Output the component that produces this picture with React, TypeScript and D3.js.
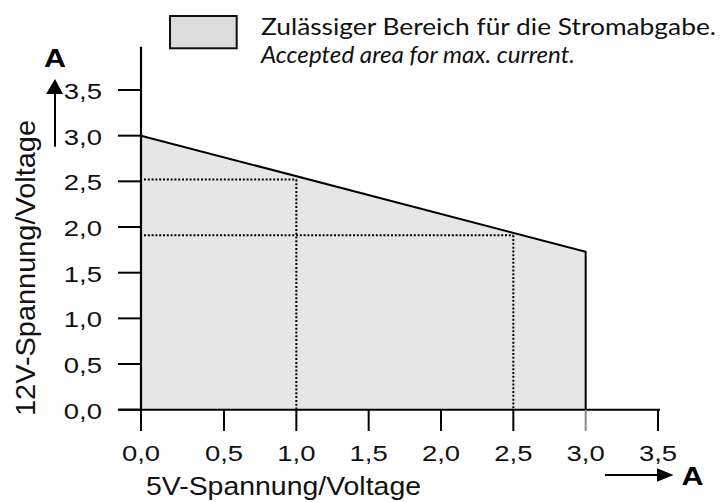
import React from "react";
import * as d3 from "d3";

// tick values (amps)
const xTicks = [0, 0.5, 1.0, 1.5, 2.0, 2.5, 3.0, 3.5];
const yTicks = [0, 0.5, 1.0, 1.5, 2.0, 2.5, 3.0, 3.5];

// allowed current region: 5V current vs 12V current
const limitX = [0, 3.0];
const limitY = [3.0, 1.73];

// dotted guide lines (example operating points)
const guideX = [1.0, 2.5];
const guideY = [2.52, 1.91];

const legendLine1 = "Zulässiger Bereich für die Stromabgabe.";
const legendLine2 = "Accepted area for max. current.";

const W = 727;
const H = 502;
const sans = "'Liberation Sans', Arial, Helvetica, sans-serif";
const legendFont = "Lato, 'Open Sans', sans-serif";

const fmt = (v: number) => d3.format(".1f")(v).replace(".", ",");

export default function App() {
  // the original drawing has a wider first interval on the x axis
  const x = d3.scaleLinear().domain([0, 0.5, 3.5]).range([141, 224, 658]);
  const y = d3.scaleLinear().domain([0, 3.5]).range([409.7, 90]);

  const pts: [number, number][] = limitX.map((v, i) => [v, limitY[i]]);

  const area = d3
    .area<[number, number]>()
    .x((d) => x(d[0]))
    .y0(y(0))
    .y1((d) => y(d[1]));

  const outline = d3
    .line<[number, number]>()
    .x((d) => x(d[0]))
    .y((d) => y(d[1]));

  const lastX = limitX[limitX.length - 1];
  const outlinePts: [number, number][] = [...pts, [lastX, 0]];

  const dots = "2 1.8";

  return (
    <svg
      width={W}
      height={H}
      style={{ position: "absolute", left: 0, top: 0, background: "#fff" }}
    >
      {/* region */}
      <path d={area(pts) ?? ""} fill="#e6e6e6" stroke="none" />

      {/* guides */}
      {guideX.map((gx, i) => (
        <g key={i} stroke="#000" strokeWidth={2} strokeDasharray={dots} fill="none">
          <line x1={x(0) + 3} x2={x(gx)} y1={y(guideY[i])} y2={y(guideY[i])} />
          <line x1={x(gx)} x2={x(gx)} y1={y(guideY[i])} y2={y(0)} />
        </g>
      ))}

      <path
        d={outline(outlinePts) ?? ""}
        fill="none"
        stroke="#000"
        strokeWidth={2}
        strokeLinejoin="miter"
      />

      {/* x axis */}
      <line x1={118} x2={660} y1={y(0)} y2={y(0)} stroke="#000" strokeWidth={2} />
      {xTicks.map((t) => (
        <g key={t}>
          <line
            x1={x(t)}
            x2={x(t)}
            y1={y(0)}
            y2={431}
            stroke={t === lastX ? "#888" : "#000"}
            strokeWidth={2}
          />
          <text
            transform={`translate(${x(t)},461) scale(1.22,1)`}
            textAnchor="middle"
            fontFamily={sans}
            fontSize={22.5}
            fill="#111"
          >
            {fmt(t)}
          </text>
        </g>
      ))}

      {/* y axis */}
      <line x1={x(0)} x2={x(0)} y1={46.7} y2={y(0)} stroke="#000" strokeWidth={2.2} />
      {yTicks.map((t) => (
        <g key={t}>
          <line x1={118} x2={x(0)} y1={y(t)} y2={y(t)} stroke="#000" strokeWidth={2} />
          <text
            transform={`translate(102,${y(t) + 9}) scale(1.22,1)`}
            textAnchor="end"
            fontFamily={sans}
            fontSize={22.5}
            fill="#111"
          >
            {fmt(t)}
          </text>
        </g>
      ))}

      {/* axis titles */}
      <text
        x={146}
        y={495}
        fontFamily={sans}
        fontSize={25}
        textLength={275}
        lengthAdjust="spacingAndGlyphs"
        fill="#111"
      >
        5V-Spannung/Voltage
      </text>
      <text
        transform="translate(35,416) rotate(-90)"
        fontFamily={sans}
        fontSize={28}
        textLength={296}
        lengthAdjust="spacingAndGlyphs"
        fill="#111"
      >
        12V-Spannung/Voltage
      </text>

      {/* unit arrows */}
      <line x1={55} x2={55} y1={146.7} y2={92} stroke="#000" strokeWidth={2} />
      <path d="M46,94 L63,94 L55,79 Z" fill="#000" />
      <text
        x={44}
        y={67}
        fontFamily={sans}
        fontWeight="bold"
        fontSize={26}
        textLength={22}
        lengthAdjust="spacingAndGlyphs"
        fill="#000"
      >
        A
      </text>

      <line x1={605} x2={659} y1={475} y2={475} stroke="#000" strokeWidth={2} />
      <path d="M657,468.3 L673.5,475 L657,481.7 Z" fill="#000" />
      <text
        x={681.5}
        y={484.5}
        fontFamily={sans}
        fontWeight="bold"
        fontSize={25}
        textLength={22}
        lengthAdjust="spacingAndGlyphs"
        fill="#000"
      >
        A
      </text>

      {/* legend */}
      <rect x={170} y={16} width={66.7} height={32.3} fill="#dcdcdc" stroke="#111" strokeWidth={2} />
      <text
        x={261}
        y={34.5}
        fontFamily={legendFont}
        fontSize={23}
        textLength={455}
        lengthAdjust="spacingAndGlyphs"
        fill="#111"
      >
        {legendLine1}
      </text>
      <text
        x={261}
        y={62.5}
        fontFamily={legendFont}
        fontStyle="italic"
        fontSize={23}
        textLength={314}
        lengthAdjust="spacingAndGlyphs"
        fill="#111"
      >
        {legendLine2}
      </text>
    </svg>
  );
}
